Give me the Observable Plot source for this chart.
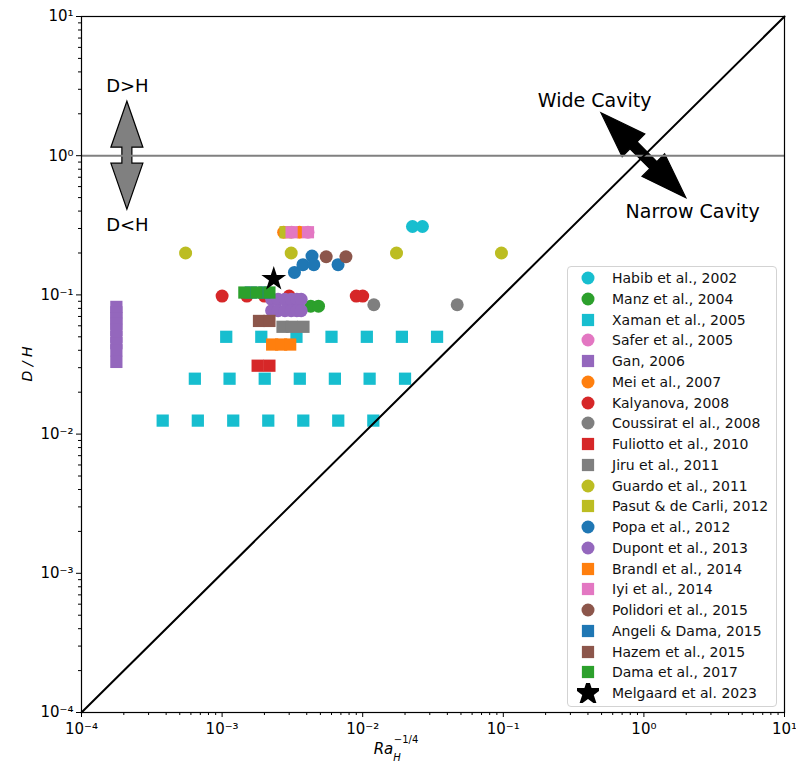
<!DOCTYPE html>
<html><head><meta charset="utf-8">
<script src="https://cdn.jsdelivr.net/npm/d3@7"></script>
<script src="https://cdn.jsdelivr.net/npm/@observablehq/plot@0.6"></script>
<style>
body{margin:0;background:#fff;font-family:"DejaVu Sans",sans-serif;}
#wrap{position:relative;width:796px;height:767px;}
#legend{position:absolute;left:567px;top:266px;width:210px;height:441px;box-sizing:border-box;border:1px solid #d3d3d3;border-radius:4px;background:rgba(255,255,255,0.85);}
.row{position:absolute;left:0;height:20px;display:flex;align-items:center;font-size:14px;color:#111;white-space:nowrap;}
.row svg{margin-left:9px;margin-right:13px;}
</style>
</head><body><div id="wrap"></div>
<script>
// ---- Data ----
const studies = ["Habib et al., 2002","Manz et al., 2004","Xaman et al., 2005","Safer et al., 2005","Gan, 2006","Mei et al., 2007","Kalyanova, 2008","Coussirat el al., 2008","Fuliotto et al., 2010","Jiru et al., 2011","Guardo et al., 2011","Pasut & de Carli, 2012","Popa et al., 2012","Dupont et al., 2013","Brandl et al., 2014","Iyi et al., 2014","Polidori et al., 2015","Angeli & Dama, 2015","Hazem et al., 2015","Dama et al., 2017","Melgaard et al. 2023"];

const habibX = [0.0226, 0.0266];
const habibY = [0.31, 0.31];
const manzX = [3.3e-3, 4.27e-3, 4.85e-3];
const manzY = [0.083, 0.083, 0.083];
const xamanX = [1.07e-3, 1.9e-3, 3.38e-3, 6.0e-3, 1.07e-2, 1.9e-2, 3.38e-2,
                6.4e-4, 1.13e-3, 2.01e-3, 3.57e-3, 6.34e-3, 1.12e-2, 2.0e-2,
                3.78e-4, 6.72e-4, 1.2e-3, 2.13e-3, 3.78e-3, 6.7e-3, 1.19e-2];
const xamanY = [0.05, 0.05, 0.05, 0.05, 0.05, 0.05, 0.05,
                0.025, 0.025, 0.025, 0.025, 0.025, 0.025, 0.025,
                0.0125, 0.0125, 0.0125, 0.0125, 0.0125, 0.0125, 0.0125];
const saferX = [3.12e-3, 4.08e-3];
const saferY = [0.282, 0.282];
const ganX = [1.77e-4, 1.77e-4, 1.77e-4, 1.77e-4, 1.77e-4, 1.77e-4, 1.77e-4, 1.77e-4, 1.77e-4];
const ganY = [0.082, 0.075, 0.068, 0.062, 0.056, 0.05, 0.045, 0.04, 0.033];
const meiX = [2.74e-3, 3.55e-3];
const meiY = [0.282, 0.282];
const kalyanovaX = [1.0e-3, 1.5e-3, 2.0e-3, 3.0e-3, 9.0e-3, 1.0e-2];
const kalyanovaY = [0.098, 0.098, 0.098, 0.098, 0.098, 0.098];
const coussiratX = [0.012, 0.047];
const coussiratY = [0.085, 0.085];
const fuliottoX = [1.79e-3, 2.17e-3];
const fuliottoY = [0.031, 0.031];
const jiruX = [2.69e-3, 3.14e-3, 3.79e-3];
const jiruY = [0.059, 0.059, 0.059];
const guardoX = [5.5e-4, 3.1e-3, 0.0174, 0.097];
const guardoY = [0.2, 0.2, 0.2, 0.2];
const pasutX = [2.83e-3];
const pasutY = [0.282];
const popaX = [3.27e-3, 3.76e-3, 4.36e-3, 4.49e-3, 6.68e-3];
const popaY = [0.145, 0.165, 0.19, 0.165, 0.165];
const dupontX = [2.25e-3, 2.5e-3, 2.8e-3, 3.1e-3, 3.4e-3, 3.65e-3, 2.25e-3, 2.5e-3, 2.8e-3, 3.1e-3, 3.4e-3, 3.65e-3];
const dupontY = [0.093, 0.093, 0.093, 0.093, 0.093, 0.093, 0.077, 0.077, 0.077, 0.077, 0.077, 0.077];
const brandlX = [2.27e-3, 2.63e-3, 3.05e-3];
const brandlY = [0.044, 0.044, 0.044];
const iyiX = [3.12e-3, 4.08e-3];
const iyiY = [0.282, 0.282];
const polidoriX = [5.5e-3, 7.6e-3];
const polidoriY = [0.188, 0.188];
const angeliX = [1.6e-3, 2.0e-3];
const angeliY = [0.104, 0.104];
const hazemX = [1.83e-3, 2.17e-3];
const hazemY = [0.065, 0.065];
const damaX = [1.44e-3, 1.76e-3, 2.17e-3];
const damaY = [0.104, 0.104, 0.104];
const melgaardX = [2.33e-3];
const melgaardY = [0.13];

const seriesX = [habibX, manzX, xamanX, saferX, ganX, meiX, kalyanovaX, coussiratX, fuliottoX, jiruX, guardoX, pasutX, popaX, dupontX, brandlX, iyiX, polidoriX, angeliX, hazemX, damaX, melgaardX];
const seriesY = [habibY, manzY, xamanY, saferY, ganY, meiY, kalyanovaY, coussiratY, fuliottoY, jiruY, guardoY, pasutY, popaY, dupontY, brandlY, iyiY, polidoriY, angeliY, hazemY, damaY, melgaardY];

const tickValues = [1e-4, 1e-3, 1e-2, 1e-1, 1, 10];
const tickLabels = ["10⁻⁴", "10⁻³", "10⁻²", "10⁻¹", "10⁰", "10¹"];

// ---- Styles ----
const markerShapes = ["circle","circle","square","circle","square","circle","circle","circle","square","square","circle","square","circle","circle","square","square","circle","square","square","square","star"];
const markerColors = ["#17becf","#2ca02c","#17becf","#e377c2","#9467bd","#ff7f0e","#d62728","#7f7f7f","#d62728","#7f7f7f","#bcbd22","#bcbd22","#1f77b4","#9467bd","#ff7f0e","#e377c2","#8c564b","#1f77b4","#8c564b","#2ca02c","#000000"];
const markerR = {circle: 6.5, square: 6.9, star: 7.8};

const minorTicks = [];
for (let e = -4; e < 1; e++) for (let k = 2; k <= 9; k++) minorTicks.push(k * Math.pow(10, e));
const fmt = d => tickLabels[tickValues.findIndex(t => Math.abs(Math.log10(t) - Math.log10(d)) < 1e-6)];

const SVGNS = "http://www.w3.org/2000/svg";
function arrowMark(xv, yv, angleDeg, tip, base, head, shaft, fill) {
  return (index, scales) => {
    const cx = scales.x(xv), cy = scales.y(yv);
    const pts = [[-tip,0],[-base,head],[-base,shaft],[base,shaft],[base,head],[tip,0],[base,-head],[base,-shaft],[-base,-shaft],[-base,-head]];
    const a = angleDeg * Math.PI / 180, c = Math.cos(a), s = Math.sin(a);
    const d = "M" + pts.map(([u, v]) => (cx + u * c - v * s).toFixed(2) + "," + (cy + u * s + v * c).toFixed(2)).join("L") + "Z";
    const p = document.createElementNS(SVGNS, "path");
    p.setAttribute("d", d);
    p.setAttribute("fill", fill);
    p.setAttribute("stroke", "#000");
    p.setAttribute("stroke-width", "1.2");
    p.setAttribute("stroke-linejoin", "miter");
    return p;
  };
}

function labelsMark(index, scales, values, dims) {
  const g = document.createElementNS(SVGNS, "g");
  g.setAttribute("font-family", "DejaVu Sans, sans-serif");
  g.setAttribute("fill", "#000");
  const cy = (dims.marginTop + dims.height - dims.marginBottom) / 2;
  // x label: Ra with subscript H and superscript −1/4, as one text element
  const t = document.createElementNS(SVGNS, "text");
  t.setAttribute("x", 396);
  t.setAttribute("y", 754);
  t.setAttribute("font-size", "15");
  t.setAttribute("font-style", "italic");
  const base = document.createElementNS(SVGNS, "tspan");
  base.textContent = "Ra";
  const sub = document.createElementNS(SVGNS, "tspan");
  sub.setAttribute("dy", "7");
  sub.setAttribute("font-size", "10");
  sub.textContent = "H";
  const sup = document.createElementNS(SVGNS, "tspan");
  sup.setAttribute("dx", "-7");
  sup.setAttribute("dy", "-18");
  sup.setAttribute("font-size", "10");
  sup.setAttribute("font-style", "normal");
  sup.textContent = "−1/4";
  t.appendChild(base); t.appendChild(sub); t.appendChild(sup);
  g.appendChild(t);
  // y label
  const yl = document.createElementNS(SVGNS, "text");
  yl.setAttribute("transform", `translate(27,${cy}) rotate(-90)`);
  yl.setAttribute("font-size", "14");
  yl.setAttribute("font-style", "italic");
  yl.setAttribute("text-anchor", "middle");
  yl.setAttribute("dy", "0.35em");
  yl.textContent = "D / H";
  g.appendChild(yl);
  return g;
}

const dotMarks = studies.map((name, i) => {
  const rows = seriesX[i].map((x, j) => ({x, y: seriesY[i][j], study: name}));
  return Plot.dot(rows, {x: "x", y: "y", symbol: () => markerShapes[i], r: markerR[markerShapes[i]], fill: markerColors[i], stroke: "none"});
});

const diag = [{x: 1e-4, y: 1e-4}, {x: 10, y: 10}];

const chart = Plot.plot({
  width: 796,
  height: 767,
  marginLeft: 81,
  marginRight: 12,
  marginTop: 16,
  marginBottom: 55,
  style: {fontFamily: "DejaVu Sans, sans-serif", fontSize: "14px", background: "white", color: "#000"},
  x: {type: "log", domain: [1e-4, 10]},
  y: {type: "log", domain: [1e-4, 10]},
  marks: [
    ...dotMarks,
    arrowMark(2.12e-4, 1, 90, 54, 8, 16, 5, "#808080"),
    arrowMark(1, 1, 45, 60, 14, 16, 5, "#000000"),
    Plot.ruleY([1], {stroke: "#808080", strokeWidth: 2}),
    Plot.line(diag, {x: "x", y: "y", stroke: "#000", strokeWidth: 2}),
    Plot.text(["D>H"], {x: 2.12e-4, y: 3.14, text: d => d, fontSize: 18}),
    Plot.text(["D<H"], {x: 2.12e-4, y: 0.315, text: d => d, fontSize: 18}),
    Plot.text(["Wide Cavity"], {x: 0.446, y: 2.49, text: d => d, fontSize: 19}),
    Plot.text(["Narrow Cavity"], {x: 2.22, y: 0.397, text: d => d, fontSize: 19}),
    Plot.axisX(tickValues, {tickSize: 5, tickPadding: 6, tickFormat: fmt, fontSize: 15, label: null}),
    Plot.axisX(minorTicks, {tickSize: 3, fill: "none", label: null}),
    Plot.axisY(tickValues, {tickSize: 5, tickPadding: 3, tickFormat: fmt, fontSize: 15, label: null}),
    Plot.axisY(minorTicks, {tickSize: 3, fill: "none", label: null}),
    Plot.frame({stroke: "#000", strokeWidth: 1.2}),
    labelsMark
  ]
});

const wrap = document.getElementById("wrap");
wrap.appendChild(chart);

// Legend
const legend = document.createElement("div");
legend.id = "legend";
studies.forEach((name, i) => {
  const row = document.createElement("div");
  row.className = "row";
  row.style.top = (1 + i * 20.75) + "px";
  const sv = d3.create("svg").attr("width", 22).attr("height", 20);
  const shape = markerShapes[i];
  const r = shape === "star" ? 9.5 : markerR[shape];
  const sym = shape === "circle" ? d3.symbolCircle : shape === "square" ? d3.symbolSquare : d3.symbolStar;
  sv.append("path").attr("transform", "translate(11,10)").attr("d", d3.symbol(sym, Math.PI * r * r)()).attr("fill", markerColors[i]);
  row.appendChild(sv.node());
  const span = document.createElement("span");
  span.textContent = name;
  row.appendChild(span);
  legend.appendChild(row);
});
wrap.appendChild(legend);
</script>
</body></html>
